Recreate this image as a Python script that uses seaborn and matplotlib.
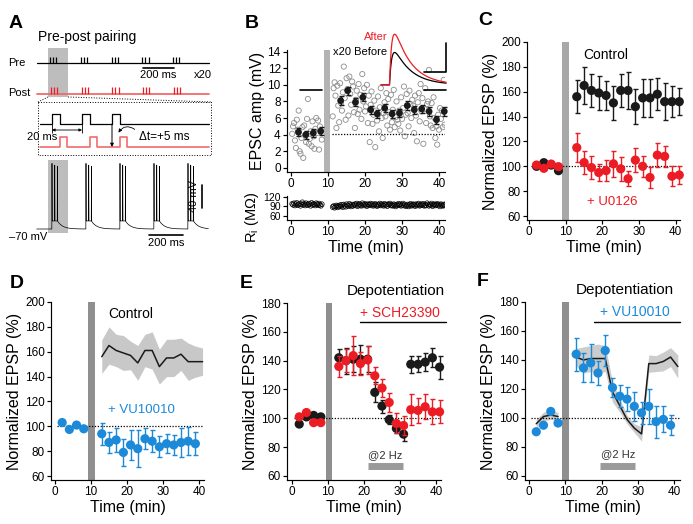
import numpy as np
import pandas as pd
import seaborn as sns
import matplotlib.pyplot as plt
from matplotlib.patches import Rectangle, FancyArrowPatch

# ---------------- data ----------------
t_base = [2, 4, 6, 8]
t_post = [13, 15, 17, 19, 21, 23, 25, 27, 29, 31, 33, 35, 37, 39, 41]
t_post14 = t_post[:14]

# B: single cell, one sweep every 15 s
b_sweep_base = [4.1, 5.0, 5.4, 3.3, 2.4, 5.8, 4.6, 6.9,
                2.0, 1.7, 3.6, 4.9, 1.2, 5.1, 3.9, 3.1,
                5.9, 8.3, 2.9, 3.5, 4.4, 2.6, 5.6, 3.8,
                2.3, 4.7, 6.0, 4.2, 5.7, 2.2, 5.0, 4.5, 3.4]
b_sweep_post = [6.2, 9.6, 10.3, 8.7, 4.8, 9.9, 7.5, 5.5,
                10.2, 7.8, 6.9, 9.1, 12.2, 8.4, 5.8, 10.8,
                9.5, 6.3, 11.0, 8.9, 7.6, 10.4, 9.8, 6.7,
                4.8, 8.2, 9.3, 6.5, 10.1, 7.0, 8.8, 5.9,
                11.3, 8.0, 9.6, 6.8, 7.4, 10.0, 5.4, 8.7,
                3.1, 7.6, 9.2, 5.3, 6.4, 8.1, 2.5, 6.9,
                5.7, 8.6, 4.4, 7.3, 9.6, 6.0, 3.6, 6.6,
                7.9, 6.2, 9.0, 5.1, 8.3, 6.7, 4.6, 8.8,
                5.5, 7.0, 9.4, 4.9, 6.1, 8.0, 5.8, 5.3,
                6.9, 4.5, 8.5, 5.9, 7.2, 9.8, 3.8, 6.4,
                8.9, 6.6, 5.0, 9.3, 7.7, 6.0, 8.2, 7.5,
                4.2, 8.7, 6.3, 3.2, 7.9, 9.0, 5.6, 10.1,
                6.8, 8.4, 2.9, 7.1, 9.6, 5.4, 7.7, 8.0,
                11.8, 6.2, 5.1, 7.8, 4.8, 8.5, 6.0, 3.6,
                5.0, 2.8, 6.4, 4.6, 7.2, 5.9, 6.9, 4.9,
                10.6, 5.2, 6.6]
b_ri_base = [98, 95, 100, 93, 97, 101, 94, 96, 99, 92, 97, 103, 95, 98, 93, 100,
             96, 94, 99, 97, 92, 101, 95, 98, 96, 93, 100, 97, 94, 99, 95, 92, 97]
b_ri_post = [88, 91, 86, 90, 93, 87, 92, 89,
             94, 90, 95, 88, 96, 92, 89, 97,
             93, 91, 98, 94, 90, 96, 92, 95,
             97, 93, 99, 91, 95, 98, 94, 92,
             100, 96, 93, 98, 95, 91, 97, 94,
             96, 99, 93, 97, 92, 95, 98, 94,
             91, 96, 94, 99, 93, 97, 95, 92,
             98, 94, 96, 91, 97, 95, 99, 93,
             95, 92, 97, 94, 90, 96, 93, 98,
             94, 97, 92, 95, 99, 93, 96, 91,
             93, 96, 90, 95, 98, 92, 94, 97,
             95, 91, 97, 93, 96, 99, 92, 94,
             97, 94, 98, 92, 95, 93, 100, 96,
             92, 96, 94, 99, 91, 95, 97, 93,
             95, 98, 93, 96, 90, 97, 94, 92,
             96, 93, 97]
b_sweep_t_base = 0.3 + 0.25 * np.arange(len(b_sweep_base))
b_sweep_t_post = 11.25 + 0.25 * np.arange(len(b_sweep_post))
b_mean_base = [4.3, 4.0, 4.2, 4.4]
b_mean_t_post = [13.4, 15.3, 17.4, 19.4, 21.5, 23.3, 25.3, 27.3, 29.3, 31.4, 33.3, 35.3, 37.3, 39.3, 41.4]
b_mean_post = [8.1, 9.3, 7.9, 8.5, 7.0, 6.5, 7.2, 6.5, 6.6, 7.5, 7.0, 7.1, 6.8, 5.8, 6.8]
b_mean_err = 0.5
# inset EPSP traces (amplitude above baseline, axis units)
inset_peaks = {'After': 6.1, 'Before': 3.9}

# C
c_ctrl_base = [100, 102.9, 101, 96.5]
c_ctrl_post = [156, 165, 161, 159, 157, 151, 161, 161, 148, 155, 155, 158, 152, 152, 152]
c_ctrl_err = [13.5, 15, 13, 14, 11.5, 14, 13, 15, 14, 15, 15, 13, 15, 12.5, 11]
c_u0126_base = [101, 98.4, 101.8, 99.7]
c_u0126_post = [115, 103, 99, 95, 96.5, 102, 98, 90, 105, 100, 91, 109, 108, 92, 93]
c_u0126_err = [11.5, 9, 9.5, 7, 8.5, 10.5, 9.5, 6, 9.5, 8.5, 8.5, 9.5, 8.5, 8, 7.6]

# D
d_vu_base = [103, 97.5, 101, 98]
d_vu_post = [94, 87, 89, 79, 85, 82, 90, 88, 83.5, 86, 85, 87, 88, 86]
d_vu_err = [9, 8.7, 10, 10.7, 11.8, 15, 8.5, 8.7, 8.3, 7.5, 8.4, 12, 11.4, 9.4]

# E
e_ctrl_base = [96, 101, 102, 101]
e_ctrl_post = [142, 140, 141, 141, 141, 118, 108.5, 99, 93, 89, 137.5, 137.5, 139, 142, 135.5]
e_ctrl_err = [6, 9, 9, 10, 9, 7, 4.5, 3, 3, 5, 6, 5.5, 6.5, 6.5, 8]
e_sch_base = [101, 104, 97, 97]
e_sch_post = [136, 140, 143.5, 138, 140.5, 129.5, 121, 111, 96.5, 95, 106, 105.5, 108, 104.5, 104.5]
e_sch_err = [7, 8, 13.5, 8, 9.5, 6, 6.5, 6.5, 7, 6.5, 10.8, 8.7, 8.8, 8.7, 8]

# F
f_vu_base = [90.5, 95, 104.5, 96.5]
f_vu_post = [144, 134.5, 138, 131, 146.5, 121, 115, 113, 108, 103.5, 108, 97.5, 99, 95]
f_vu_err = [11.5, 10, 13, 8.5, 10.5, 6.5, 7.5, 8.5, 10, 7.5, 12, 11, 9, 7]

# A: pairing protocol
burst_onsets_ms = [0, 200, 400, 600, 800]
pulse_offsets_ms = [0, 20, 40]
pairing_delay_ms = 5
spike_offsets_ms = [0, 16, 32]
spike_heights_mv = [100, 97, 95]

# ---------------- style ----------------
sns.set_theme(style="ticks")
plt.rcParams['font.family'] = ['Liberation Sans', 'DejaVu Sans']
plt.rcParams.update({
    'mathtext.default': 'regular',
    'axes.linewidth': 0.85, 'axes.edgecolor': 'black', 'axes.labelcolor': 'black',
    'xtick.color': 'black', 'ytick.color': 'black', 'text.color': 'black',
    'xtick.major.width': 0.85, 'ytick.major.width': 0.85,
    'xtick.major.size': 3, 'ytick.major.size': 3,
    'xtick.labelsize': 8.5, 'ytick.labelsize': 8.5,
    'xtick.major.pad': 1.5, 'ytick.major.pad': 1.5,
    'axes.labelsize': 11.5,
})

RED = '#ec1c24'
BLUE = '#1c8ad8'
BLACK = '#1a1a1a'
PINK = '#f26b6b'
MS = 44

W, H = 693, 524
fig = plt.figure(figsize=(6.93, 5.24), dpi=100)


def box(l, t, r, b):
    return [l / W, 1 - b / H, (r - l) / W, (b - t) / H]


def style(ax, xlim, ylim, yticks):
    sns.despine(ax=ax)
    ax.set_xlim(*xlim)
    ax.set_ylim(*ylim)
    ax.set_xticks([0, 10, 20, 30, 40])
    ax.set_yticks(yticks)


def points(ax, t, y, err, color, z, s=MS):
    if err is not None:
        ax.errorbar(t, y, yerr=err, fmt='none', ecolor=color, elinewidth=1.0,
                    capsize=1.8, capthick=1.0, zorder=z, clip_on=False)
    sns.scatterplot(x=t, y=y, ax=ax, color=color, s=s, edgecolor='none',
                    zorder=z + 0.5, legend=False, clip_on=False)


def dotted(ax, x0, x1, y):
    ax.plot([x0, x1], [y, y], ls=(0, (1, 1.3)), color='black', lw=0.9, zorder=1.5)


# ---------------- A ----------------
ax_a = fig.add_axes(box(0, 0, 230, 260))
ax_a.set_xlim(0, 230)
ax_a.set_ylim(260, 0)
ax_a.axis('off')
ax_a.text(38, 37, 'Pre-post pairing', size=10, va='center')
ax_a.text(8, 63, 'Pre', size=8, va='center')
ax_a.text(8, 93, 'Post', size=8, va='center')

ms_px = 0.154
pre_x = [50 + ms_px * (b + p) for b in burst_onsets_ms for p in pulse_offsets_ms]
post_x = [x + ms_px * pairing_delay_ms for x in pre_x]
ax_a.add_patch(Rectangle((48, 48), 20, 49, color='#bdbdbd', lw=0, zorder=0))
ax_a.plot([37, 209], [63, 63], color='black', lw=0.9)
ax_a.vlines(pre_x, 57, 63, color='black', lw=0.9)
ax_a.plot([37, 209], [94, 94], color=PINK, lw=1.3)
ax_a.vlines(post_x, 87, 94, color=RED, lw=0.9)
ax_a.plot([143, 143 + ms_px * 200], [68, 68], color='black', lw=1.2)
ax_a.text(158, 75.5, '200 ms', size=8, ha='center', va='center')
ax_a.text(203, 75.5, 'x20', size=8, ha='center', va='center')

# zoomed pulses
ax_a.plot([48, 38], [97, 102], ls=':', color='black', lw=0.7)
ax_a.plot([68, 211], [97, 102], ls=':', color='black', lw=0.7)
ax_a.add_patch(Rectangle((38, 102), 173, 53, fill=False, ls=':', lw=0.7, ec='black'))
zp = 1.5
pre_starts = [52 + zp * p for p in pulse_offsets_ms]
post_starts = [s + zp * pairing_delay_ms for s in pre_starts]


def pulse_line(starts, base, top, width):
    xs, ys = [40], [base]
    for s in starts:
        xs += [s, s, s + width, s + width]
        ys += [base, top, top, base]
    xs.append(209)
    ys.append(base)
    return xs, ys


xs, ys = pulse_line(pre_starts, 124, 114, zp * 5)
ax_a.plot(xs, ys, color='black', lw=0.9)
xs, ys = pulse_line(post_starts, 147, 137, zp * 5)
ax_a.plot(xs, ys, color=PINK, lw=1.2)
ax_a.vlines(pre_starts[:2], 118, 133, color='black', lw=0.6)
ax_a.annotate('', xy=(pre_starts[0], 130), xytext=(pre_starts[1], 130),
              arrowprops=dict(arrowstyle='<|-|>', lw=0.6, color='black',
                              mutation_scale=4, shrinkA=0, shrinkB=0))
ax_a.text(42, 137.5, '20 ms', size=8, ha='center', va='center')
ax_a.annotate('', xy=(pre_starts[2], 147), xytext=(pre_starts[2], 124),
              arrowprops=dict(arrowstyle='-|>', lw=0.7, color='black',
                              mutation_scale=5, shrinkA=0, shrinkB=0))
ax_a.add_patch(FancyArrowPatch((137, 131), (117, 135), connectionstyle='arc3,rad=0.6',
                               arrowstyle='-|>', mutation_scale=5, lw=0.6, color='black'))
ax_a.text(139, 137, 'Δt=+5 ms', size=8.5, va='center')

# membrane potential trace
tr_px = 0.17
t = np.arange(-90, 920, 0.25)
v = np.full_like(t, -70.0)
for tb in burst_onsets_ms:
    on = (t >= tb) & (t < tb + 32)
    v[on] += 14
    after = t >= tb + 32
    v[after] += 14 * np.exp(-(t[after] - tb - 32) / 30)
    for k, ts in enumerate(spike_offsets_ms):
        v += spike_heights_mv[k] * np.clip(1 - np.abs(t - tb - ts) / 1.0, 0, None)
ax_a.add_patch(Rectangle((48, 160), 20, 73, color='#bdbdbd', lw=0, zorder=0))
ax_a.plot(52 + tr_px * t, 229 - 0.575 * (v + 70), color='black', lw=0.5)
ax_a.plot([202, 202], [208, 208 - 0.575 * 40], color='black', lw=1.2)
ax_a.text(194, 196, '40 mV', size=8, rotation=90, ha='center', va='center')
ax_a.plot([149, 149 + tr_px * 200], [235, 235], color='black', lw=1.2)
ax_a.text(166, 242.5, '200 ms', size=8, ha='center', va='center')
ax_a.text(9, 237, '\u201370 mV', size=8, va='center')

# ---------------- B ----------------
ax_b = fig.add_axes(box(287, 50, 445, 172))
ax_b.axvspan(9.0, 10.4, color='#b3b3b3', lw=0, zorder=0)
sweep_t = np.concatenate([b_sweep_t_base, b_sweep_t_post])
sns.scatterplot(x=sweep_t, y=b_sweep_base + b_sweep_post, ax=ax_b, s=14,
                facecolors='none', edgecolor='#8c8c8c', linewidth=0.6, zorder=2, legend=False)
dotted(ax_b, 11, 41.5, 4.1)
points(ax_b, t_base, b_mean_base, b_mean_err, BLACK, 3, s=24)
points(ax_b, b_mean_t_post, b_mean_post, b_mean_err, BLACK, 3, s=24)
ax_b.plot([2.4, 8.4], [9.35, 9.35], color='black', lw=1.2)
ax_b.plot([36.0, 41.9], [9.35, 9.35], color='black', lw=1.2, clip_on=False)
t_in = np.linspace(24.3, 41.9, 400)
dt = np.clip(t_in - 26.6, 0, None)
shape = np.exp(-dt / 4.5) - np.exp(-dt / 0.6)
shape = shape / shape.max()
ax_b.plot(t_in, 10.0 + inset_peaks['Before'] * shape, color='black', lw=0.9, clip_on=False, zorder=4)
ax_b.plot(t_in, 10.0 + inset_peaks['After'] * shape, color=RED, lw=0.9, clip_on=False, zorder=4)
ax_b.plot([36.0, 41.9, 41.9], [11.5, 11.5, 15.0], color='black', lw=1.2, clip_on=False)
ax_b.text(26, 15.8, 'After', color=RED, size=8, ha='right', va='center')
ax_b.text(11.4, 13.9, 'x20 Before', size=8, va='center')
style(ax_b, (-1.1, 41.6), (-0.5, 14.2), range(0, 15, 2))
ax_b.set_ylabel('EPSC amp (mV)', labelpad=2)

ax_ri = fig.add_axes(box(287, 196, 445, 220))
sns.scatterplot(x=sweep_t, y=b_ri_base + b_ri_post, ax=ax_ri, s=12,
                facecolors='none', edgecolor='black', linewidth=0.5, zorder=2, legend=False)
style(ax_ri, (-1.1, 41.6), (47, 123), [60, 90, 120])
ax_ri.tick_params(axis='y', labelsize=7.5)
ax_ri.set_xlabel('Time (min)', labelpad=1)
ax_ri.set_ylabel('R$_{i}$ (M\u03a9)', size=10.5)
ax_ri.yaxis.set_label_coords(-0.165, 0.1)

# ---------------- C ----------------
ax_c = fig.add_axes(box(527, 42, 680, 220))
ax_c.axvspan(8.9, 10.8, color='#a8a8a8', lw=0, zorder=0)
dotted(ax_c, 0.5, 41.2, 100)
points(ax_c, t_base, c_ctrl_base, None, BLACK, 3)
points(ax_c, t_post, c_ctrl_post, c_ctrl_err, BLACK, 3)
points(ax_c, t_base, c_u0126_base, None, RED, 4)
points(ax_c, t_post, c_u0126_post, c_u0126_err, RED, 4)
ax_c.text(14.8, 189.5, 'Control', size=10, va='center')
ax_c.text(15.8, 71, '+ U0126', size=9.5, color=RED, va='center')
style(ax_c, (-0.6, 41.2), (56.8, 200), range(60, 201, 20))
ax_c.set_xlabel('Time (min)', labelpad=1)
ax_c.set_ylabel('Normalized EPSP (%)', labelpad=2)

# ---------------- D ----------------
ax_d = fig.add_axes(box(51, 302, 204, 480))
ax_d.axvspan(9.2, 11.2, color='#8f8f8f', lw=0, zorder=0)
lo = np.array(c_ctrl_post) - np.array(c_ctrl_err)
hi = np.array(c_ctrl_post) + np.array(c_ctrl_err)
ax_d.fill_between(t_post, lo, hi, color='#c8c8c8', lw=0, zorder=1)
sns.lineplot(x=t_post, y=c_ctrl_post, ax=ax_d, color=BLACK, lw=1.1, zorder=2)
dotted(ax_d, 0.5, 41.4, 100)
points(ax_d, t_base, d_vu_base, None, BLUE, 3)
points(ax_d, t_post14, d_vu_post, d_vu_err, BLUE, 3)
ax_d.text(14.7, 190.3, 'Control', size=10, va='center')
ax_d.text(14.7, 113, '+ VU10010', size=9.5, color=BLUE, va='center')
style(ax_d, (-1.1, 41.4), (56.8, 200), range(60, 201, 20))
ax_d.set_xlabel('Time (min)', labelpad=1)
ax_d.set_ylabel('Normalized EPSP (%)', labelpad=2)

# ---------------- E ----------------
ax_e = fig.add_axes(box(287, 303, 441, 480))
ax_e.axvspan(9.4, 11.0, color='#8f8f8f', lw=0, zorder=0)
dotted(ax_e, 0.5, 41.4, 100)
points(ax_e, t_base, e_ctrl_base, None, BLACK, 3)
points(ax_e, t_post, e_ctrl_post, e_ctrl_err, BLACK, 3)
points(ax_e, t_base, e_sch_base, None, RED, 4)
points(ax_e, t_post, e_sch_post, e_sch_err, RED, 4)
ax_e.plot([21, 30.9], [67, 67], color='#9a9a9a', lw=5, solid_capstyle='butt')
ax_e.text(25.8, 74.5, '@2 Hz', size=8, ha='center', va='center', color='#333333')
ax_e.text(42.6, 188, 'Depotentiation', size=11, ha='right', va='center')
ax_e.text(19, 173, '+ SCH23390', size=10, color=RED, va='center')
ax_e.plot([19, 42.7], [166.5, 166.5], color='black', lw=1.0, clip_on=False)
style(ax_e, (-1.4, 41.4), (57.2, 180), range(60, 181, 20))
ax_e.set_xlabel('Time (min)', labelpad=1)
ax_e.set_ylabel('Normalized EPSP (%)', labelpad=2)

# ---------------- F ----------------
ax_f = fig.add_axes(box(525, 302, 680, 480))
ax_f.axvspan(9.0, 11.0, color='#8f8f8f', lw=0, zorder=0)
for tt, yy, ee in [(t_base, e_ctrl_base, [3, 3, 3, 3]), (t_post, e_ctrl_post, e_ctrl_err)]:
    ax_f.fill_between(tt, np.array(yy) - np.array(ee), np.array(yy) + np.array(ee),
                      color='#cccccc', lw=0, zorder=1)
    sns.lineplot(x=tt, y=yy, ax=ax_f, color=BLACK, lw=1.1, zorder=2)
dotted(ax_f, 0.5, 41.6, 100)
points(ax_f, t_base, f_vu_base, None, BLUE, 3)
points(ax_f, t_post14, f_vu_post, f_vu_err, BLUE, 3)
ax_f.plot([19.5, 29.3], [67, 67], color='#9a9a9a', lw=5, solid_capstyle='butt')
ax_f.text(24.5, 75, '@2 Hz', size=8, ha='center', va='center', color='#333333')
ax_f.text(40, 188.3, 'Depotentiation', size=11, ha='right', va='center')
ax_f.text(19.5, 173.3, '+ VU10010', size=10, color=BLUE, va='center')
ax_f.plot([17.8, 41.6], [166.4, 166.4], color='black', lw=1.0, clip_on=False)
style(ax_f, (-1.1, 41.6), (57.2, 180), range(60, 181, 20))
ax_f.set_xlabel('Time (min)', labelpad=1)
ax_f.set_ylabel('Normalized EPSP (%)', labelpad=2)

# panel letters
for letter, x, y in [('A', 9, 28), ('B', 245, 28), ('C', 478, 25),
                     ('D', 10, 288), ('E', 240, 288), ('F', 477, 286)]:
    fig.text(x / W, 1 - y / H, letter, size=14, weight='bold', va='baseline')

fig.savefig('out.png', dpi=100)
